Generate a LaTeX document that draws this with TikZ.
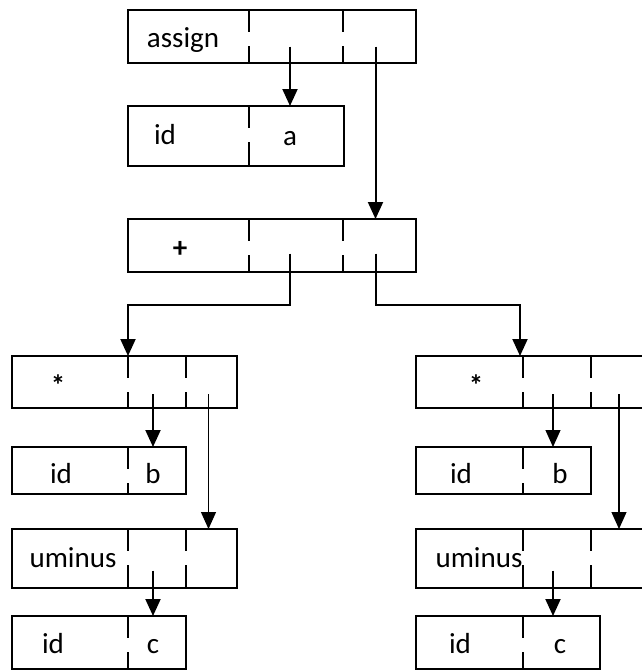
\documentclass[tikz,border=0pt]{standalone}
\usepackage{fontspec}
\setmainfont{Carlito}
\usetikzlibrary{arrows.meta,calc}

\begin{document}
\begin{tikzpicture}[
  x=0.5pt, y=-0.5pt,
  line width=1pt,
  cell/.style={rectangle, inner sep=0pt, outer sep=0pt, anchor=north west},
  wd/.style={minimum width=#1*0.5pt},
  ht/.style={minimum height=#1*0.5pt},
  lbl/.style={anchor=base, inner sep=0pt, font=\fontsize{14.5}{16}\selectfont},
  divider/.style={line width=0.8pt, dash pattern=on 11pt off 7pt on 40pt},
  ptr/.style={-{Triangle[length=8.5pt, width=7.5pt]}, line width=1pt},
  thinptr/.style={ptr, line width=0.6pt},
]

  \useasboundingbox (0,0) rectangle (642,671);
  \clip (0,0) rectangle (642,671);

  % cells of the records: name/x/y/width/height
  \foreach \n/\x/\y/\w/\h in {
      assign-1/128/10/121/53, assign-2/249/10/94/53, assign-3/343/10/73/53,
      ida-1/128/106/121/60, ida-2/249/106/95/60,
      plus-1/128/219/121/53, plus-2/249/219/94/53, plus-3/343/219/73/53,
      lstar-1/12/356/116/52, lstar-2/128/356/58/52, lstar-3/186/356/51/52,
      lb-1/12/447/116/47, lb-2/128/447/58/47,
      lumin-1/12/529/116/59, lumin-2/128/529/58/59, lumin-3/186/529/51/59,
      lc-1/12/616/116/53, lc-2/128/616/58/53,
      rstar-1/416/356/107/52, rstar-2/523/356/68/52, rstar-3/591/356/60/52,
      rb-1/416/447/107/47, rb-2/523/447/68/47,
      rumin-1/416/529/107/59, rumin-2/523/529/68/59, rumin-3/591/529/60/59,
      rc-1/416/616/107/53, rc-2/523/616/77/53}
    \node[cell, wd=\w, ht=\h] (\n) at (\x,\y) {};

  % outlines
  \foreach \a/\b in {assign-1/assign-3, ida-1/ida-2, plus-1/plus-3,
      lstar-1/lstar-3, lb-1/lb-2, lumin-1/lumin-3, lc-1/lc-2,
      rstar-1/rstar-3, rb-1/rb-2, rumin-1/rumin-3, rc-1/rc-2}
    \draw (\a.north west) rectangle (\b.south east);

  % broken dividers
  \foreach \n in {assign-2, assign-3, ida-2, plus-2, plus-3,
      lstar-2, lstar-3, lb-2, lumin-2, lumin-3, lc-2,
      rstar-2, rstar-3, rb-2, rumin-2, rumin-3, rc-2}
    \draw[divider] (\n.north west) -- (\n.south west);

  % texts
  \node[lbl] (assign-t) at (183,47) {assign};
  \node[lbl] (ida-t) at (165,144) {id};
  \node[lbl] (ida-v) at (290,145) {a};
  \node[lbl] (plus-t) at (180,257) {\bfseries +};
  \node[lbl] (lstar-t) at (58,395) {\bfseries *};
  \node[lbl] (lb-t) at (61,483) {id};
  \node[lbl] (lb-v) at (153,483) {b};
  \node[lbl] (lumin-t) at (73,567) {uminus};
  \node[lbl] (lc-t) at (53,653) {id};
  \node[lbl] (lc-v) at (153,653) {c};
  \node[lbl] (rstar-t) at (476,395) {\bfseries *};
  \node[lbl] (rb-t) at (461,483) {id};
  \node[lbl] (rb-v) at (560,483) {b};
  \node[lbl] (rumin-t) at (479,567) {uminus};
  \node[lbl] (rc-t) at (460,653) {id};
  \node[lbl] (rc-v) at (560,653) {c};

  % pointers
  \coordinate (fork) at (0,305);
  \draw[ptr] ([xshift=-3pt,yshift=-5pt]assign-2.center) -- ([xshift=-3pt]assign-2.center |- ida-2.north);
  \draw[ptr] ([xshift=-2pt,yshift=-5pt]assign-3.center) -- ([xshift=-2pt]assign-3.center |- plus-3.north);
  \draw[ptr] ([xshift=-3pt,yshift=-4pt]plus-2.center) -- ([xshift=-3pt]plus-2.center |- fork) -| (lstar-2.north west);
  \draw[ptr] ([xshift=-2pt,yshift=-4pt]plus-3.center) -- ([xshift=-2pt]plus-3.center |- fork) -| ([xshift=-1.5pt]rstar-2.north west);
  \draw[ptr] ([xshift=-2pt,yshift=-6pt]lstar-2.center) -- ([xshift=-2pt]lstar-2.center |- lb-2.north);
  \draw[thinptr] ([xshift=-1.5pt,yshift=-6pt]lstar-3.center) -- ([xshift=-1.5pt]lstar-3.center |- lumin-3.north);
  \draw[ptr] ([xshift=-2pt,yshift=-6pt]lumin-2.center) -- ([xshift=-2pt]lumin-2.center |- lc-2.north);
  \draw[thinptr] ([xshift=-2pt,yshift=-6pt]rstar-2.center) -- ([xshift=-2pt]rstar-2.center |- rb-2.north);
  \draw[thinptr] ([xshift=-1pt,yshift=-6pt]rstar-3.center) -- ([xshift=-1pt]rstar-3.center |- rumin-3.north);
  \draw[ptr] ([xshift=-2pt,yshift=-6pt]rumin-2.center) -- ([xshift=-2pt]rumin-2.center |- rc-2.north);
\end{tikzpicture}
\end{document}
